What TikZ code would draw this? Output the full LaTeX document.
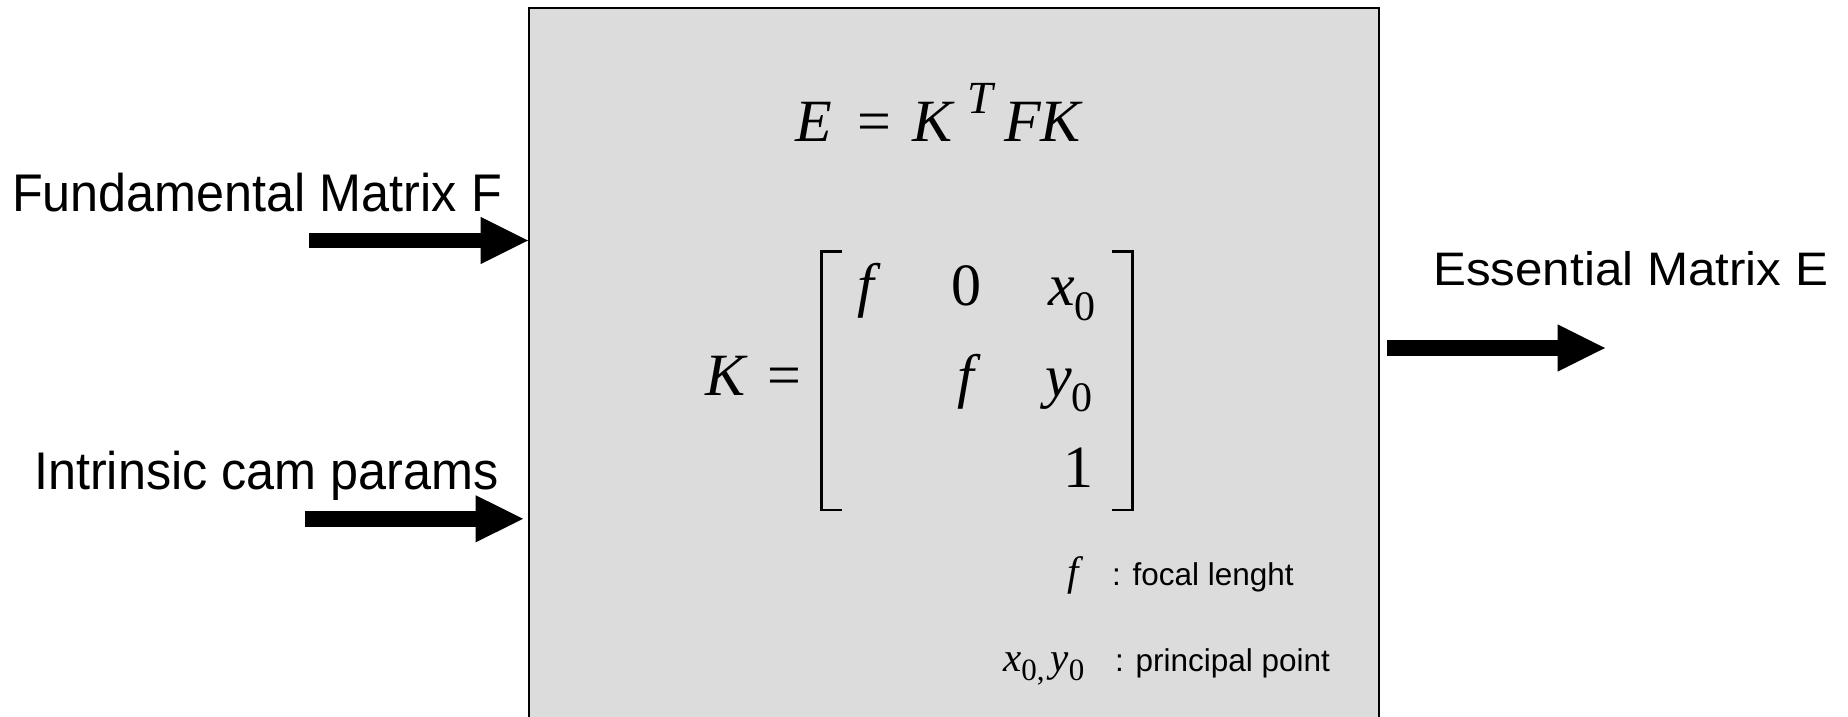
\documentclass[tikz,border=0pt]{standalone}
\usepackage{fontspec}
\usetikzlibrary{arrows.meta}
\newfontfamily\labfont[FakeStretch=0.95]{Liberation Sans}
\newfontfamily\outfont[FakeStretch=1.05]{Liberation Sans}
\newfontfamily\legfont{Liberation Sans}
\newfontfamily\tmsfont{Liberation Serif}
\definecolor{boxgray}{RGB}{220,220,220}
\newcommand{\mv}[1]{{\itshape #1}}
\newcommand{\subfs}[2]{\raisebox{#2}{\fontsize{#1}{#1}\selectfont 0}}
\tikzset{
  inlab/.style={inner sep=0pt, anchor=base west, font=\labfont\fontsize{53}{58}\selectfont},
  outlab/.style={inner sep=0pt, anchor=base west, font=\outfont\fontsize{47}{50}\selectfont},
  leglab/.style={inner sep=0pt, anchor=base west, font=\legfont\fontsize{31.5}{34}\selectfont},
  bigmath/.style={inner sep=0pt, font=\tmsfont\fontsize{60}{64}\selectfont},
  smallmath/.style={inner sep=0pt, font=\tmsfont\fontsize{41}{44}\selectfont},
  mainbox/.style={draw=black, line width=2pt, fill=boxgray, inner sep=0pt, anchor=north west},
  bigarrow/.style={line width=15.6pt, -{Triangle[length=47.5pt,width=47.3pt,line width=0pt]}},
  brk/.style={line width=2.8pt, line cap=butt, line join=miter}
}
\begin{document}
\begin{tikzpicture}[x=1pt,y=-1pt]
\useasboundingbox (0,0) rectangle (1848,717);
\clip (0,0) rectangle (1848,717);
% main box
\node[mainbox, minimum width=850pt, minimum height=760pt] (box) at (528,7.5) {};
% input / output labels
\node[inlab] (lf) at (12,211) {Fundamental Matrix F};
\node[inlab] (li) at (34,489.5) {Intrinsic cam params};
\node[outlab] (le) at (1433,285) {Essential Matrix E};
% arrows
\coordinate (fstart) at (309.3,240.5);
\coordinate (istart) at (305,518.8);
\coordinate (ostart) at (1387.3,348);
\coordinate (oend) at (1605,348);
\draw[bigarrow] (fstart) -- (fstart -| box.west);
\draw[bigarrow] (istart) -- ([xshift=-5pt]istart -| box.west);
\draw[bigarrow] (ostart) -- (oend);
% equation E = K^T F K
\node[bigmath, anchor=base west] (eq) at (795,141.7)
  {\mv{E}\hspace{26pt}=\hspace{21pt}\mv{K}\hspace{15pt}\raisebox{28.5pt}{\fontsize{46}{46}\selectfont\mv{T}}\hspace{11pt}\mv{FK}};
% K =
\node[bigmath, anchor=base west] (keq) at (705,395) {\mv{K}\hspace{22pt}=};
% matrix entries
\node[bigmath, anchor=base] (m11) at (866,305) {\mv{f}};
\node[bigmath, anchor=base] (m12) at (966.5,305) {0};
\node[bigmath, anchor=base west] (m13) at (1048,305) {\mv{x}\subfs{42}{-15pt}};
\node[bigmath, anchor=base] (m22) at (966,396.7) {\mv{f}};
\node[bigmath, anchor=base west] (m23) at (1045,396.7) {\mv{y}\subfs{42}{-15pt}};
\node[bigmath, anchor=base] (m33) at (1078,487) {1};
% brackets
\draw[brk] (841.7,251.7) -| (821.7,510) -- (841.7,510);
\draw[brk] (1112,251.7) -| (1132.3,510) -- (1112,510);
% legend
\node[smallmath, anchor=base] (lgf) at (1073,585) {\mv{f}};
\node[smallmath, anchor=base west] (lgxy) at (1003,671.7)
  {\mv{x}\raisebox{-9pt}{\fontsize{31}{31}\selectfont 0,}\hspace{6pt}\mv{y}\raisebox{-9pt}{\fontsize{31}{31}\selectfont 0}};
\node[leglab] (lgt1) at (1112,585) {: focal lenght};
\node[leglab] (lgt2) at (1115,671.7) {: principal point};
\end{tikzpicture}
\end{document}
